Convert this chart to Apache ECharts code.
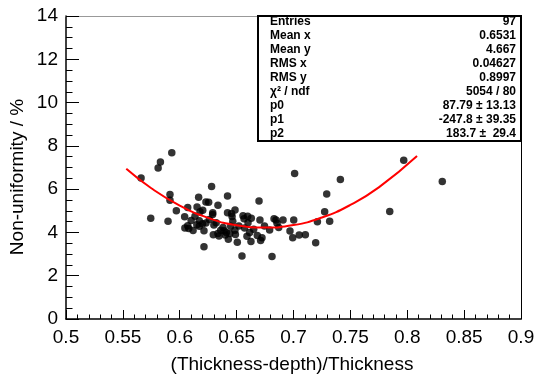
<!DOCTYPE html>
<html>
<head>
<meta charset="utf-8">
<script src="https://cdn.jsdelivr.net/npm/echarts@6/dist/echarts.min.js"></script>
<style>html,body{margin:0;padding:0;background:#fff}#c{width:537px;height:381px}</style>
</head>
<body>
<div id="c"></div>
<script>
// measured points (x = (Thickness-depth)/Thickness, y = non-uniformity %)
var pointsX = [0.566,0.5745,0.581,0.583,0.593,0.5897,0.5914,0.5914,0.597,0.6043,0.607,0.607,0.6079,0.6117,0.6134,0.6152,0.6166,0.6172,0.6172,0.6178,0.6202,0.6213,0.6213,0.623,0.6254,0.623,0.628,0.629,0.6295,0.63,0.6336,0.6345,0.638,0.639,0.64,0.642,0.642,0.6427,0.6448,0.646,0.6466,0.6486,0.6489,0.6506,0.6547,0.6556,0.6565,0.6591,0.6597,0.6626,0.6629,0.665,0.6682,0.6697,0.6705,0.6711,0.6723,0.679,0.6811,0.6829,0.6846,0.6855,0.687,0.6908,0.6969,0.6993,0.7002,0.701,0.705,0.7104,0.7195,0.721,0.7274,0.7292,0.7318,0.7412,0.7846,0.7969,0.8308,0.626,0.632,0.636,0.641,0.6456,0.6289,0.652,0.657,0.620,0.615,0.644,0.660,0.610,0.6045,0.6335,0.6485,0.6615,0.6745];
var pointsY = [6.52,4.65,6.98,7.25,7.68,4.52,5.75,5.49,5.0,4.72,5.15,4.31,4.18,4.09,4.75,5.17,5.63,4.54,4.29,4.95,5.02,3.34,4.08,5.41,5.40,4.44,6.12,4.91,3.89,4.34,5.26,3.84,4.23,4.08,3.88,5.68,4.91,3.68,4.29,4.74,4.52,5.04,3.91,3.55,2.91,4.77,4.63,3.82,4.75,3.58,4.65,4.15,3.86,5.45,4.57,3.63,3.75,4.11,2.89,4.63,4.57,4.42,4.23,4.57,4.07,3.75,4.57,6.72,3.88,3.89,3.52,4.49,4.95,5.77,4.52,6.45,4.97,7.34,6.35,4.6,4.45,4.1,4.0,4.88,4.83,4.3,4.2,4.4,4.35,3.95,4.45,4.55,4.2,3.95,4.1,4.0,4.3];
// fitted pol2 curve
var fitX = [0.553,0.575,0.6,0.625,0.65,0.675,0.7,0.725,0.75,0.775,0.8086];
var fitY = [6.94,6.04,5.24,4.67,4.33,4.23,4.34,4.69,5.27,6.08,7.53];
// tick settings
var xTicks = {min:0.5, max:0.9, interval:0.05};
var yTicks = {min:0, max:14, interval:2};
// titles
var xTitle = '(Thickness-depth)/Thickness';
var yTitle = 'Non-uniformity / %';
// stats box
var statLabels = ["Entries","Mean x","Mean y","RMS x","RMS y","\u03c7\u00b2 / ndf","p0","p1","p2"];
var statValues = ["97","0.6531","4.667","0.04627","0.8997","5054 / 80","87.79 \u00b1 13.13","-247.8 \u00b1 39.35","183.7 \u00b1  29.4"];

var pts = pointsX.map(function(x,i){return [x,pointsY[i]];});
var fit = fitX.map(function(x,i){return [x,fitY[i]];});
var FONT = 'Liberation Sans, Arial, Helvetica, sans-serif';

var L=66, R=521, T=16, B=319;
var boxL=258, boxT=16, boxR=521, boxB=141;
var g = [];
g.push({type:'rect', shape:{x:boxL,y:boxT,width:boxR-boxL,height:boxB-boxT}, style:{fill:'#fff',stroke:'#000',lineWidth:2}, z:100});
var rowTop = 22, rowStep = 14;
statLabels.forEach(function(s,i){
  g.push({type:'text', x:270, y:rowTop+i*rowStep, z:101, style:{text:s, font:'bold 12px '+FONT, fill:'#000', textVerticalAlign:'middle', textAlign:'left'}});
  g.push({type:'text', x:516, y:rowTop+i*rowStep, z:101, style:{text:statValues[i], font:'bold 12px '+FONT, fill:'#000', textVerticalAlign:'middle', textAlign:'right'}});
});
g.push({type:'text', x:18, y:177, rotation:Math.PI/2, z:101, style:{text:yTitle, font:'19px '+FONT, fill:'#000', textAlign:'center', textVerticalAlign:'middle'}});
g.push({type:'text', x:292, y:365, z:101, style:{text:xTitle, font:'19px '+FONT, fill:'#000', textAlign:'center', textVerticalAlign:'middle'}});

var chart = echarts.init(document.getElementById('c'), null, {renderer:'canvas'});
chart.setOption({
  animation:false,
  backgroundColor:'#fff',
  grid:{left:L, right:537-R, top:T, bottom:381-B, containLabel:false, outerBoundsMode:'none'},
  xAxis:[{
    type:'value', min:xTicks.min, max:xTicks.max, interval:xTicks.interval,
    axisLine:{show:true, onZero:false, lineStyle:{color:'#000', width:1.5}},
    axisTick:{show:true, inside:true, length:9, lineStyle:{color:'#000'}},
    minorTick:{show:true, splitNumber:5, length:4.5, lineStyle:{color:'#000'}},
    axisLabel:{fontFamily:FONT, fontSize:19, color:'#000', margin:9, formatter:function(v){return String(+v.toFixed(2));}},
    splitLine:{show:false}
  },{
    type:'value', position:'top', min:xTicks.min, max:xTicks.max,
    axisLine:{show:true, onZero:false, lineStyle:{color:'#999', width:1}},
    axisTick:{show:false}, axisLabel:{show:false}, splitLine:{show:false}
  }],
  yAxis:[{
    type:'value', min:yTicks.min, max:yTicks.max, interval:yTicks.interval,
    axisLine:{show:true, onZero:false, lineStyle:{color:'#000', width:1.5}},
    axisTick:{show:true, inside:true, length:13, lineStyle:{color:'#000'}},
    minorTick:{show:true, splitNumber:4, length:6.5, lineStyle:{color:'#000'}},
    axisLabel:{fontFamily:FONT, fontSize:19, color:'#000', margin:8},
    splitLine:{show:false}
  },{
    type:'value', position:'right', min:yTicks.min, max:yTicks.max,
    axisLine:{show:true, onZero:false, lineStyle:{color:'#000', width:1}},
    axisTick:{show:false}, axisLabel:{show:false}, splitLine:{show:false}
  }],
  series:[{
    type:'scatter', data:pts, symbol:'circle', symbolSize:7.5,
    itemStyle:{color:'#000'}, z:2
  },{
    type:'line', data:fit, smooth:true, showSymbol:false, symbol:'none',
    lineStyle:{color:'#ff0000', width:2}, z:3
  }],
  graphic:g
});
</script>
</body>
</html>
